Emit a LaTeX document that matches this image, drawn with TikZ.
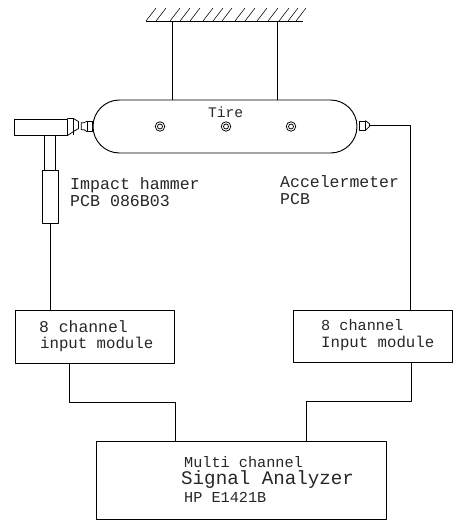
\documentclass[tikz,border=0pt]{standalone}
\usetikzlibrary{calc}
\usepackage{fontspec}
\setmainfont{Liberation Mono}
\newcommand{\fs}[1]{\fontsize{#1}{#1}\selectfont}
\tikzset{
  ln/.style={line width=0.75pt, line join=round},
  thick ln/.style={line width=0.95pt, line join=round},
  boxn/.style={draw, ln, rectangle, inner sep=0pt},
  lbl/.style={anchor=base west, inner sep=0pt, text=black!85},
  bolt/.style={circle, draw, ln, inner sep=0pt, minimum size=#1},
}
\begin{document}
\begin{tikzpicture}[x=1pt,y=-1pt]
\useasboundingbox (0,0) rectangle (458,520);
% ceiling
\coordinate (cl) at (146,21);
\coordinate (cr) at (303,21);
\coordinate (hl) at (172,21);
\coordinate (hr) at (277,21);
\draw[thick ln] (cl) -- (cr);
\foreach \x in {146,156,170,180,190,203,213,222,235,245,257,268,279,288,296}
  \draw[line width=0.55pt] (\x,21) -- ++(10,-13);
% tire
\node[boxn, thick ln, rounded corners=26.5pt, minimum width=264pt, minimum height=53pt] (tire) at (225,126.5) {};
\draw[thick ln] (hl) -- (hl |- tire.north);
\draw[thick ln] (hr) -- (hr |- tire.north);
\node[lbl, font=\fs{14.6}] (tiretxt) at (208,117) {Tire};
\foreach \n/\x in {a/160,b/226,c/291}{
  \node[bolt=9.5pt] (bo\n) at (\x,126.5) {};
  \node[bolt=5pt] (bi\n) at (\x,126.5) {};
}
% sensor on left of tire
\node[boxn, minimum width=5pt, minimum height=10pt] (lmount) at (90,126.5) {};
\draw[ln] (lmount.north west) -- ++(-3,1.5) -- ++(-3,0) -- ++(0,7) -- ++(3,0) -- (lmount.south west);
% hammer
\node[boxn, thick ln, minimum width=53pt, minimum height=16pt] (head) at (40.5,127) {};
\draw[ln] (head.north east) -- ++(6,0) -- ++(5,3) -- ++(0,7) -- ++(-5,3) -- (head.south east);
\draw[ln] ($(head.north east)+(6,0)$) -- ($(head.south east)+(6,0)$);
\node[boxn, minimum width=11pt, minimum height=35pt] (handle) at (49.5,152.5) {};
\node[boxn, thick ln, minimum width=16pt, minimum height=53pt] (grip) at (50,196.5) {};
\node[lbl, font=\fs{16.6}] (hammer1) at (70,189) {Impact hammer};
\node[lbl, font=\fs{16.6}] (hammer2) at (70,206) {PCB 086B03};
% accelerometer
\node[boxn, minimum width=6pt, minimum height=9pt] (acc) at (362,125.5) {};
\draw[ln] (acc.north east) -- ++(4,3) -- ++(0,3) -- (acc.south east);
\coordinate (acctip) at (369,125.5);
\node[lbl, font=\fs{16.5}] (acc1) at (280,187) {Accelermeter};
\node[lbl, font=\fs{16.5}] (acc2) at (280,204) {PCB};
% modules
\node[boxn, thick ln, minimum width=159pt, minimum height=53pt] (m1) at (95,336.5) {};
\node[boxn, thick ln, minimum width=159pt, minimum height=52pt] (m2) at (372.5,336) {};
\node[lbl, font=\fs{16.4}] (m1a) at (39,332) {8 channel};
\node[lbl, font=\fs{15.7}] (m1b) at (40,348) {input module};
\node[lbl, font=\fs{15.2}] (m2a) at (321,330) {8 channel};
\node[lbl, font=\fs{15.7}] (m2b) at (321,347) {Input module};
% analyzer
\node[boxn, thick ln, minimum width=290pt, minimum height=78pt] (sa) at (241,480) {};
\node[lbl, font=\fs{15.2}] (s1) at (184,467) {Multi channel};
\node[lbl, font=\fs{19.2}] (s2) at (181,484) {Signal Analyzer};
\node[lbl, font=\fs{15.2}] (s3) at (184,502) {HP E1421B};
% connectors
\coordinate (rj) at (410,125.5);
\coordinate (j1) at (69,402);
\coordinate (j2) at (175,402);
\coordinate (j3) at (411,401);
\coordinate (j4) at (306,401);
\draw[ln] (grip.south) -- (grip.south |- m1.north);
\draw[thick ln] (acctip) -- (rj) -- (rj |- m2.north);
\draw[ln] (j1 |- m1.south) -- (j1) -- (j2) -- (j2 |- sa.north);
\draw[ln] (j3 |- m2.south) -- (j3) -- (j4) -- (j4 |- sa.north);
\end{tikzpicture}
\end{document}
